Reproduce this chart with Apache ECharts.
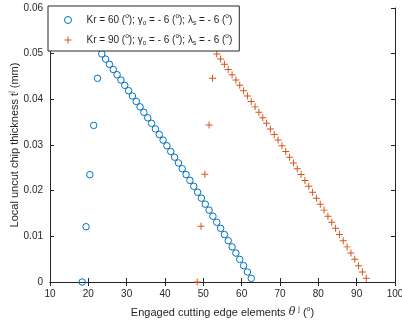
<!DOCTYPE html>
<html>
<head>
<meta charset="utf-8">
<script src="https://cdn.jsdelivr.net/npm/echarts@6/dist/echarts.min.js"></script>
<style>html,body{margin:0;padding:0;background:#fff;}#c{width:402px;height:321px;}</style>
</head>
<body>
<div id="c"></div>
<script>
// ---- data ----
const xTicks = [10, 20, 30, 40, 50, 60, 70, 80, 90, 100];
const yTicks = ['0', '0.01', '0.02', '0.03', '0.04', '0.05', '0.06'];

const seriesNames = [
  'Kr = 60 (°); γo = - 6 (°); λs = - 6 (°)',
  'Kr = 90 (°); γo = - 6 (°); λs = - 6 (°)'
];

const thetaKr60 = [18.4, 19.4, 20.4, 21.4, 22.4,
  23.5, 24.5, 25.5, 26.5, 27.5, 28.5, 29.5, 30.5, 31.5, 32.5,
  33.5, 34.5, 35.5, 36.5, 37.5, 38.5, 39.5, 40.5, 41.5, 42.5,
  43.5, 44.5, 45.5, 46.5, 47.5, 48.5, 49.5, 50.5, 51.5, 52.5,
  53.5, 54.5, 55.5, 56.5, 57.5, 58.5, 59.5, 60.5, 61.5, 62.5];
const thickKr60 = [0, 0.0121, 0.0235, 0.0343, 0.0446,
  0.04994, 0.04881, 0.04768, 0.04654, 0.04539, 0.04423, 0.04307, 0.04190, 0.04073, 0.03954,
  0.03835, 0.03716, 0.03595, 0.03474, 0.03352, 0.03230, 0.03107, 0.02983, 0.02858, 0.02733,
  0.02607, 0.02480, 0.02353, 0.02225, 0.02096, 0.01966, 0.01836, 0.01705, 0.01574, 0.01441,
  0.01308, 0.01175, 0.01040, 0.00905, 0.00769, 0.00633, 0.00496, 0.00358, 0.00219, 0.00080];

const thetaKr90 = [48.4, 49.4, 50.4, 51.5, 52.4,
  53.5, 54.5, 55.5, 56.5, 57.5, 58.5, 59.5, 60.5, 61.5, 62.5,
  63.5, 64.5, 65.5, 66.5, 67.5, 68.5, 69.5, 70.5, 71.5, 72.5,
  73.5, 74.5, 75.5, 76.5, 77.5, 78.5, 79.5, 80.5, 81.5, 82.5,
  83.5, 84.5, 85.5, 86.5, 87.5, 88.5, 89.5, 90.5, 91.5, 92.5];
const thickKr90 = [0, 0.0122, 0.0236, 0.0344, 0.0446,
  0.04994, 0.04881, 0.04768, 0.04654, 0.04539, 0.04423, 0.04307, 0.04190, 0.04073, 0.03954,
  0.03835, 0.03716, 0.03595, 0.03474, 0.03352, 0.03230, 0.03107, 0.02983, 0.02858, 0.02733,
  0.02607, 0.02480, 0.02353, 0.02225, 0.02096, 0.01966, 0.01836, 0.01705, 0.01574, 0.01441,
  0.01308, 0.01175, 0.01040, 0.00905, 0.00769, 0.00633, 0.00496, 0.00358, 0.00219, 0.00080];

// ---- styling ----
const FONT = 'Liberation Sans, Arial, Helvetica, sans-serif';
const TXT = '#262626';
const BLUE = '#0072BD';
const ORANGE = '#D95319';
const PLUS = 'path://M4.3,0H5.7V4.3H10V5.7H5.7V10H4.3V5.7H0V4.3H4.3Z';

const pairs = (xs, ys) => xs.map((x, i) => [x, ys[i]]);

const axisCommon = {
  type: 'value',
  axisLine: { show: true, lineStyle: { color: TXT, width: 1 } },
  axisTick: { show: true, inside: true, length: 4, lineStyle: { color: TXT, width: 1 } },
  splitLine: { show: false },
  minorTick: { show: false }
};

const legendText = [
  'Kr = 60 ({sup|o}); {g|γ}{sub|o} = - 6 ({sup|o}); {g|λ}{sub|s} = - 6 ({sup|o})',
  'Kr = 90 ({sup|o}); {g|γ}{sub|o} = - 6 ({sup|o}); {g|λ}{sub|s} = - 6 ({sup|o})'
];

const chart = echarts.init(document.getElementById('c'), null, { renderer: 'canvas' });
chart.setOption({
  animation: false,
  backgroundColor: '#fff',
  grid: { left: 50, right: 7, top: 8, bottom: 39, containLabel: false, outerBoundsMode: 'none' },
  xAxis: [
    Object.assign({}, axisCommon, {
      position: 'bottom', min: 10, max: 100, interval: 10,
      axisLabel: { show: true, margin: 7, color: TXT, fontFamily: FONT, fontSize: 10,
        formatter: (v) => { const i = xTicks.indexOf(Math.round(v)); return i >= 0 ? String(xTicks[i]) : ''; } },
      name: 'Engaged cutting edge elements {it|θ} {sup|j} ({sup|o})',
      nameLocation: 'middle', nameGap: 24, nameMoveOverlap: false,
      nameTextStyle: { color: TXT, fontFamily: FONT, fontSize: 11, lineHeight: 13,
        rich: {
          it: { fontStyle: 'italic', fontFamily: 'DejaVu Serif, serif', fontSize: 11, lineHeight: 13, color: TXT },
          sup: { fontSize: 7, lineHeight: 7, verticalAlign: 'top', fontFamily: FONT, color: TXT }
        } }
    }),
    Object.assign({}, axisCommon, {
      position: 'top', min: 10, max: 100, interval: 10,
      axisLabel: { show: false }
    })
  ],
  yAxis: [
    Object.assign({}, axisCommon, {
      position: 'left', min: 0, max: 0.06, interval: 0.01,
      axisLabel: { show: true, margin: 7, color: TXT, fontFamily: FONT, fontSize: 10,
        formatter: (v) => yTicks[Math.round(v * 100)] || '' },
      name: 'Local uncut chip thickness t{sup|j} (mm)',
      nameLocation: 'middle', nameGap: 29, nameMoveOverlap: false,
      nameTextStyle: { color: TXT, fontFamily: FONT, fontSize: 11, lineHeight: 13,
        rich: {
          sup: { fontSize: 7, lineHeight: 7, verticalAlign: 'top', fontFamily: FONT, color: TXT }
        } }
    }),
    Object.assign({}, axisCommon, {
      position: 'right', min: 0, max: 0.06, interval: 0.01,
      axisLabel: { show: false }
    })
  ],
  legend: {
    show: true,
    orient: 'vertical',
    left: 48, top: 6,
    padding: [7, 7, 4, 16],
    itemGap: 6,
    itemWidth: 27, itemHeight: 7,
    itemTextGap: 5,
    backgroundColor: '#ffffff',
    borderColor: '#262626', borderWidth: 1, borderRadius: 0,
    selectedMode: false,
    formatter: (name) => legendText[seriesNames.indexOf(name)],
    textStyle: {
      color: TXT, fontFamily: FONT, fontSize: 10, lineHeight: 14,
      rich: {
        sup: { fontSize: 6.5, lineHeight: 7, verticalAlign: 'top', fontFamily: FONT, color: TXT },
        sub: { fontSize: 6.5, lineHeight: 7, verticalAlign: 'bottom', fontFamily: FONT, color: TXT },
        g: { fontSize: 10, lineHeight: 14, fontFamily: FONT, color: TXT }
      }
    },
    data: [
      { name: seriesNames[0], icon: 'circle', itemStyle: { color: 'rgba(0,0,0,0)', borderColor: BLUE, borderWidth: 1 } },
      { name: seriesNames[1], icon: PLUS, itemStyle: { color: ORANGE, borderWidth: 0 } }
    ],
    z: 10
  },
  series: [
    {
      name: seriesNames[0], type: 'scatter',
      xAxisIndex: 0, yAxisIndex: 0,
      symbol: 'circle', symbolSize: 6.5,
      itemStyle: { color: 'rgba(0,0,0,0)', borderColor: BLUE, borderWidth: 1, opacity: 1 },
      emphasis: { disabled: true },
      data: pairs(thetaKr60, thickKr60)
    },
    {
      name: seriesNames[1], type: 'scatter',
      xAxisIndex: 0, yAxisIndex: 0,
      symbol: PLUS, symbolSize: 7,
      itemStyle: { color: ORANGE, borderWidth: 0, opacity: 1 },
      emphasis: { disabled: true },
      data: pairs(thetaKr90, thickKr90)
    }
  ]
});
</script>
</body>
</html>
